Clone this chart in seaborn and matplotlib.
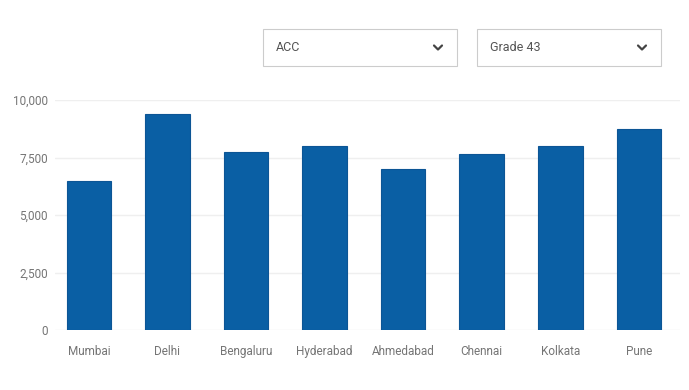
import matplotlib
matplotlib.use("Agg")
import matplotlib.pyplot as plt
import seaborn as sns
import pandas as pd
from matplotlib.patches import Rectangle
from matplotlib.lines import Line2D

cities = ["Mumbai", "Delhi", "Bengaluru", "Hyderabad", "Ahmedabad", "Chennai", "Kolkata", "Pune"]
prices = [6500, 9400, 7750, 8000, 7000, 7650, 8000, 8750]
yticks = [0, 2500, 5000, 7500, 10000]
ytick_labels = ["0", "2,500", "5,000", "7,500", "10,000"]
dropdowns = ["ACC", "Grade 43"]

sns.set_theme(style="white")
plt.rcParams["font.family"] = ["Roboto", "DejaVu Sans"]

W, H = 689, 390
fig = plt.figure(figsize=(W / 100, H / 100), dpi=100)
ax = fig.add_axes([55 / W, 1 - 330 / H, (680 - 55) / W, (330 - 100) / H])

df = pd.DataFrame({"city": cities, "price": prices})
sns.barplot(data=df, x="city", y="price", ax=ax, color="#0a5fa4",
            saturation=1, width=0.568, edgecolor="#0c5595", linewidth=0.8)

ax.set_xlim(-0.431, 7.524)
ax.set_ylim(0, 10000)
ax.set_yticks(yticks)
ax.set_yticklabels(ytick_labels)
ax.set_xlabel("")
ax.set_ylabel("")
for s in ax.spines.values():
    s.set_visible(False)
ax.grid(axis="y", color="#efefef", linewidth=1)
ax.set_axisbelow(True)
ax.tick_params(axis="both", length=0, labelsize=8.5, labelcolor="#757575")
ax.tick_params(axis="x", pad=11)
ax.tick_params(axis="y", pad=5)

# dropdown boxes
boxes = [(263, 29, 457, 66), (477, 29, 661, 66)]
for (x0, y0, x1, y1), label in zip(boxes, dropdowns):
    fig.patches.append(Rectangle((x0 / W, 1 - y1 / H), (x1 - x0) / W, (y1 - y0) / H,
                                 transform=fig.transFigure, facecolor="white",
                                 edgecolor="#cccccc", linewidth=0.8))
    fig.text((x0 + 13) / W, 1 - ((y0 + y1) / 2) / H, label, fontsize=9,
             color="#555555", va="center", ha="left")
    cx, cy = x1 - 19, (y0 + y1) / 2
    fig.lines.append(Line2D([(cx - 4) / W, cx / W, (cx + 4) / W],
                            [1 - (cy - 2) / H, 1 - (cy + 2) / H, 1 - (cy - 2) / H],
                            transform=fig.transFigure, color="#444444", linewidth=1.6))

fig.savefig("out.png", dpi=100)
